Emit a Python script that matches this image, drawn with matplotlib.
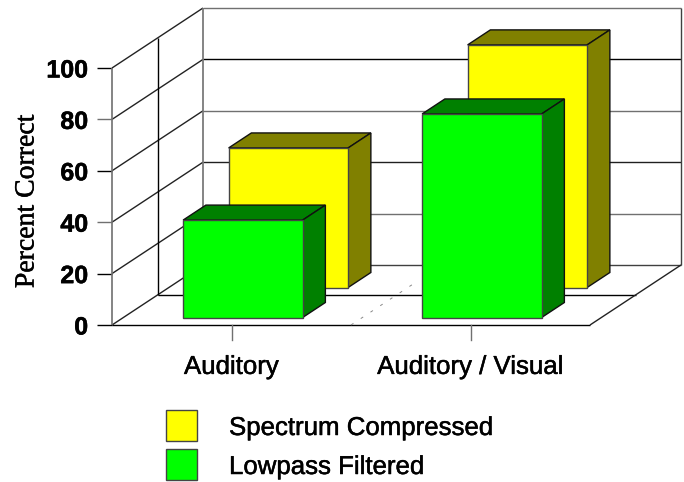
import matplotlib
matplotlib.use('Agg')
import matplotlib.pyplot as plt
import matplotlib.patheffects as pe
from matplotlib.patches import Polygon, Rectangle

categories = ['Auditory', 'Auditory / Visual']
series_names = ['Spectrum Compressed', 'Lowpass Filtered']
compressed = [54.3, 94.4]
lowpass = [37.9, 79.2]
yticks = [0, 20, 40, 60, 80, 100]

# oblique depth: one unit of depth moves a point this far in data units
DEPTH_X = 91 / 239
DEPTH_Y = 60 / 2.57

GRAY = '#707070'
back_colors = ['#404040', GRAY, '#202020', GRAY, 'black', GRAY]
tick_colors = ['black', 'black', GRAY, 'black', GRAY, 'black']
heavier = [pe.withStroke(linewidth=0.35, foreground='black')]


def proj(x, v, d=0.0):
    return x + d * DEPTH_X, v + d * DEPTH_Y


def line3d(ax, p0, p1, color='black', lw=1.0, **kw):
    x0, y0 = proj(*p0)
    x1, y1 = proj(*p1)
    ax.plot([x0, x1], [y0, y1], color=color, lw=lw, solid_capstyle='butt', **kw)


def bar3d(ax, x0, x1, d0, d1, v, front, dark):
    top = [proj(x0, v, d0), proj(x1, v, d0), proj(x1, v, d1), proj(x0, v, d1)]
    side = [proj(x1, 0, d0), proj(x1, 0, d1), proj(x1, v, d1), proj(x1, v, d0)]
    face = [proj(x0, 0, d0), proj(x1, 0, d0), proj(x1, v, d0), proj(x0, v, d0)]
    ax.add_patch(Polygon(top, fc=dark, ec='#111111', lw=1.0, zorder=3))
    ax.add_patch(Polygon(side, fc=dark, ec='#111111', lw=1.0, zorder=3))
    ax.add_patch(Polygon(face, fc=front, ec='#444444', lw=1.0, zorder=3))


fig = plt.figure(figsize=(6.84, 4.82), dpi=100)
ax = fig.add_axes([0, 0, 1, 1])
ax.set_xlim(-112 / 239, (684 - 112) / 239)
ax.set_ylim((325 - 482) / 2.57, 325 / 2.57)
ax.axis('off')

n = len(categories)

# back wall, side wall and floor grid
for t, bc, tc in zip(yticks, back_colors, tick_colors):
    line3d(ax, (0, t, 1), (n, t, 1), color=bc)
    line3d(ax, (0, t, 0), (0, t, 1), color='#222222')
    line3d(ax, (-0.064, t, 0), (0, t, 0), color=tc)
    ax.text(-0.1, t, str(t), ha='right', va='center_baseline', fontsize=18, fontweight='bold',
            family='Liberation Sans', path_effects=heavier)
line3d(ax, (0, 0, 0), (0, 100, 0), color=GRAY, lw=1.2)
line3d(ax, (0, 0, 0.5), (0, 100, 0.5))
line3d(ax, (0, 0, 1), (0, 100, 1), color=GRAY, lw=1.2)
line3d(ax, (n, 0, 1), (n, 100, 1), color='#404040')
line3d(ax, (0, 0, 0), (n, 0, 0))
line3d(ax, (0, 0, 0.5), (n, 0, 0.5))
line3d(ax, (n, 0, 0), (n, 0, 1), color='#222222')
line3d(ax, (1, 0, 0), (1, 0, 0.7), color='#888888', lw=0.7, ls=(0, (3, 9)))

# bars, back row first so the front row overlaps it
for i in range(n):
    bar3d(ax, i + 0.25, i + 0.75, 0.625, 0.875, compressed[i], '#ffff00', '#808000')
for i in range(n):
    bar3d(ax, i + 0.25, i + 0.75, 0.125, 0.375, lowpass[i], '#00ff00', '#008000')

for i, name in enumerate(categories):
    ax.plot([i + 0.5, i + 0.5], [0, -6], color=GRAY, lw=1.0)
    ax.text(i + 0.5, -16.3, name, ha='center', va='center', fontsize=18.6,
            family='Liberation Sans', path_effects=heavier)

fig.text(27 / 684, 1 - 201.5 / 482, 'Percent Correct', rotation=90, ha='center', va='center',
         fontsize=20, family='Liberation Serif', path_effects=heavier)

# legend placed in figure fractions
leg_colors = ['#ffff00', '#00ff00']
for name, col, top in zip(series_names, leg_colors, [410, 449]):
    fig.add_artist(Rectangle((166 / 684, 1 - (top + 31) / 482), 31 / 684, 31 / 482,
                             fc=col, ec='#444444', lw=1.0, transform=fig.transFigure))
    fig.text(229 / 684, 1 - (top + 18) / 482, name, ha='left', va='center', fontsize=18.6,
             family='Liberation Sans', path_effects=heavier)

fig.savefig('out.png', dpi=100)
